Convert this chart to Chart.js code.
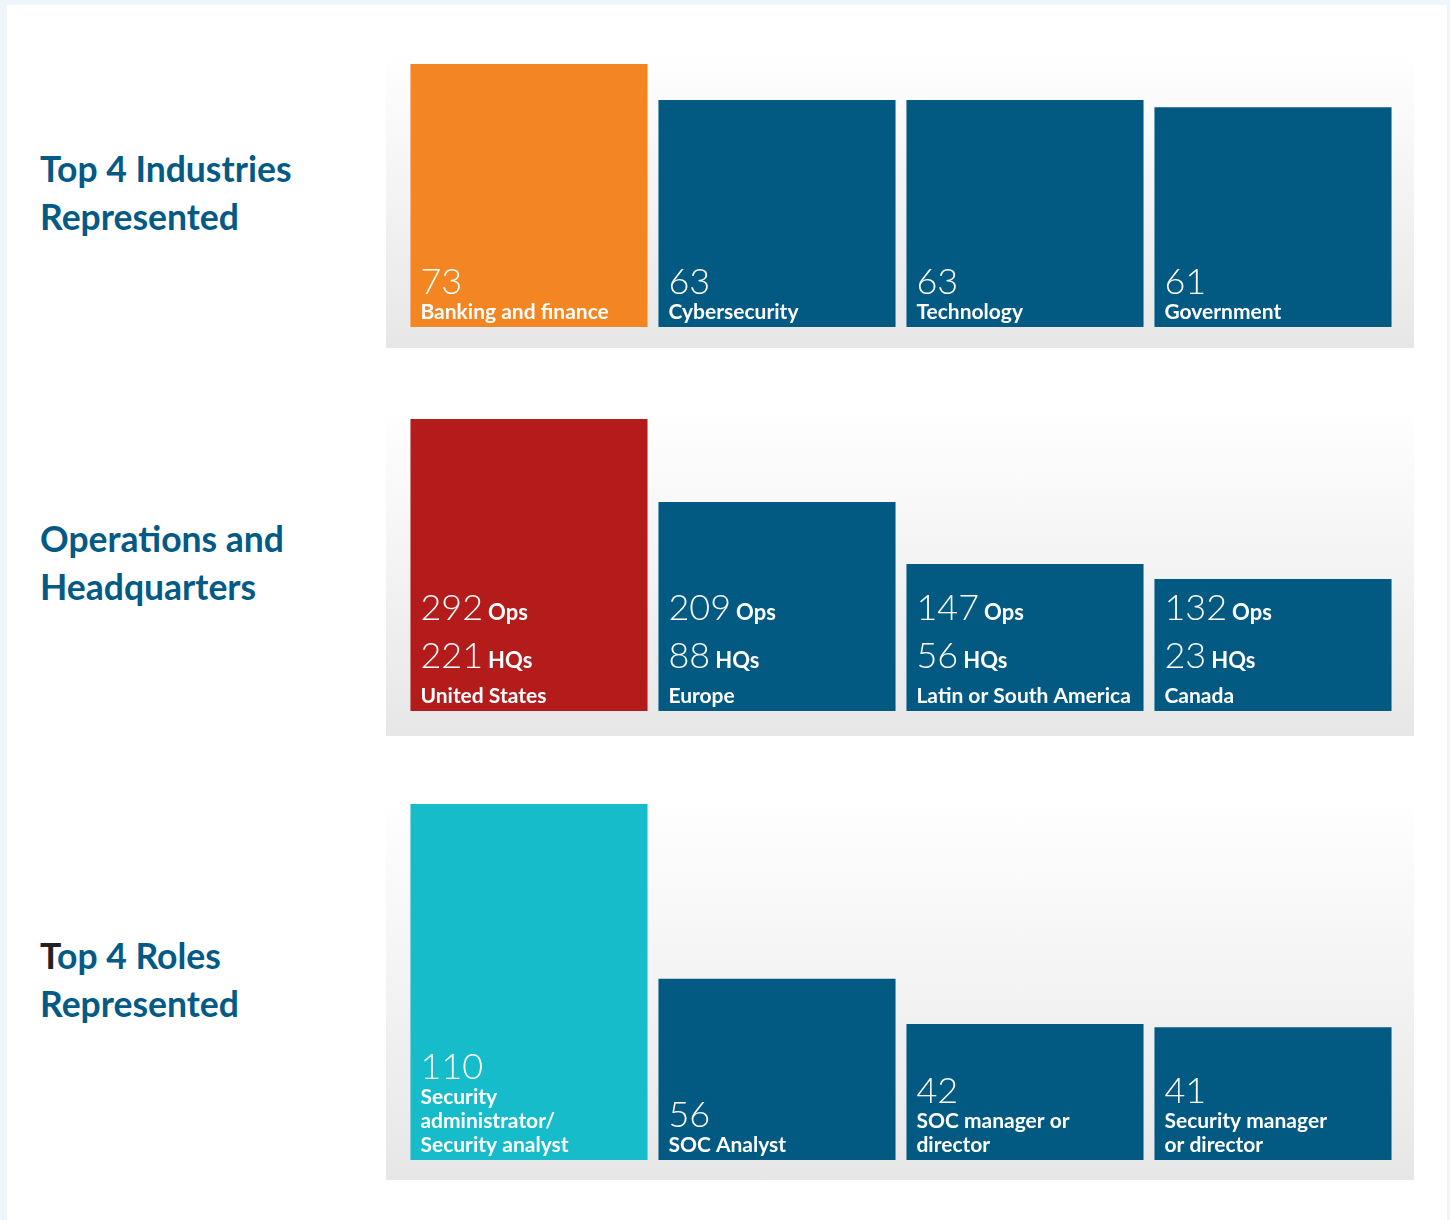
<!DOCTYPE html>
<html>
<head>
<meta charset="utf-8">
<script src="https://cdn.jsdelivr.net/npm/chart.js@4/dist/chart.umd.min.js"></script>
<style>
  body { margin: 0; background: #eef5fb; width: 1450px; height: 1220px; position: relative; overflow: hidden; font-family: Lato, sans-serif; }
  .card { position: absolute; left: 7px; top: 5px; width: 1440px; height: 1220px; background: #fff; }
  .panel { position: absolute; left: 386px; width: 1028px; background: linear-gradient(#ffffff, #e7e7e7); }
  .title { position: absolute; left: 40px; font-size: 35.5px; line-height: 48px; font-weight: 700; color: #035a85; }
  .title .dark { color: #222; }
  canvas { position: absolute; left: 405px; }
</style>
</head>
<body>
<div class="card"></div>
<div class="panel" style="top:52px;height:296px"></div>
<div class="panel" style="top:408px;height:328px"></div>
<div class="panel" style="top:797px;height:383px"></div>

<div class="title" style="top:145px">Top 4 Industries<br>Represented</div>
<div class="title" style="top:515px">Operations and<br>Headquarters</div>
<div class="title" style="top:932px"><span class="dark">T</span>op 4 Roles<br>Represented</div>

<canvas id="industries" width="992" height="263" style="top:64px"></canvas>
<canvas id="regions" width="992" height="292" style="top:419px"></canvas>
<canvas id="roles" width="992" height="356" style="top:804px"></canvas>

<script>
// dados
var industryLabels = ["Banking and finance", "Cybersecurity", "Technology", "Government"];
var industryValues = [73, 63, 63, 61];

var regionLabels = ["United States", "Europe", "Latin or South America", "Canada"];
var regionOps = [292, 209, 147, 132];
var regionHQs = [221, 88, 56, 23];

var roleLabels = [["Security", "administrator/", "Security analyst"], ["SOC Analyst"], ["SOC manager or", "director"], ["Security manager", "or director"]];
var roleValues = [110, 56, 42, 41];

var NAVY = "#025a83";

// escreve os textos dentro de cada barra
var barText = {
    id: "barText",
    afterDatasetsDraw: function (chart, args, opts) {
        var ctx = chart.ctx;
        var bars = chart.getDatasetMeta(0).data;
        ctx.save();
        ctx.fillStyle = "#fff";
        ctx.textAlign = "left";
        ctx.textBaseline = "alphabetic";
        bars.forEach(function (bar, i) {
            var x = bar.x - bar.width / 2 + 10;
            var y = bar.base - 8;
            var lines = opts.lines[i];
            if (!Array.isArray(lines)) lines = [lines];
            ctx.font = "bold 21px Lato";
            for (var k = lines.length - 1; k >= 0; k--) {
                ctx.fillText(lines[k], x, y);
                if (k > 0) y -= 24;
            }
            if (opts.extra) {
                // linhas "Ops" / "HQs"
                y -= 35;
                ctx.font = "300 36px Lato";
                ctx.fillText(opts.extra[i], x, y);
                var w = ctx.measureText(opts.extra[i]).width;
                ctx.font = "bold 22px Lato";
                ctx.fillText("HQs", x + w + 5, y);
                y -= 48;
            } else {
                y -= 25;
            }
            ctx.font = "300 36px Lato";
            var num = String(chart.data.datasets[0].data[i]);
            ctx.fillText(num, x, y);
            if (opts.unit) {
                var w2 = ctx.measureText(num).width;
                ctx.font = "bold 22px Lato";
                ctx.fillText(opts.unit, x + w2 + 5, y);
            }
        });
        ctx.restore();
    }
};

function makeChart(id, labels, values, colors, textOpts) {
    return new Chart(document.getElementById(id), {
        type: "bar",
        data: {
            labels: labels,
            datasets: [{
                data: values,
                backgroundColor: colors,
                borderWidth: 0,
                barPercentage: 1,
                categoryPercentage: 0.956
            }]
        },
        options: {
            responsive: false,
            animation: false,
            layout: { padding: 0 },
            plugins: { legend: { display: false }, tooltip: { enabled: false }, barText: textOpts },
            scales: {
                x: { display: false },
                y: { display: false, min: 0, max: Math.max.apply(null, values) }
            }
        },
        plugins: [barText]
    });
}

function build() {
    makeChart("industries", industryLabels, industryValues,
        ["#f48523", NAVY, NAVY, NAVY], { lines: industryLabels });
    makeChart("regions", regionLabels, regionOps,
        ["#b41c1c", NAVY, NAVY, NAVY], { lines: regionLabels, extra: regionHQs, unit: "Ops" });
    makeChart("roles", roleLabels, roleValues,
        ["#17bccb", NAVY, NAVY, NAVY], { lines: roleLabels });
}

document.addEventListener("DOMContentLoaded", function () {
    Promise.all([
        document.fonts.load("300 36px Lato"),
        document.fonts.load("bold 21px Lato")
    ]).then(build, build);
});
</script>
</body>
</html>
